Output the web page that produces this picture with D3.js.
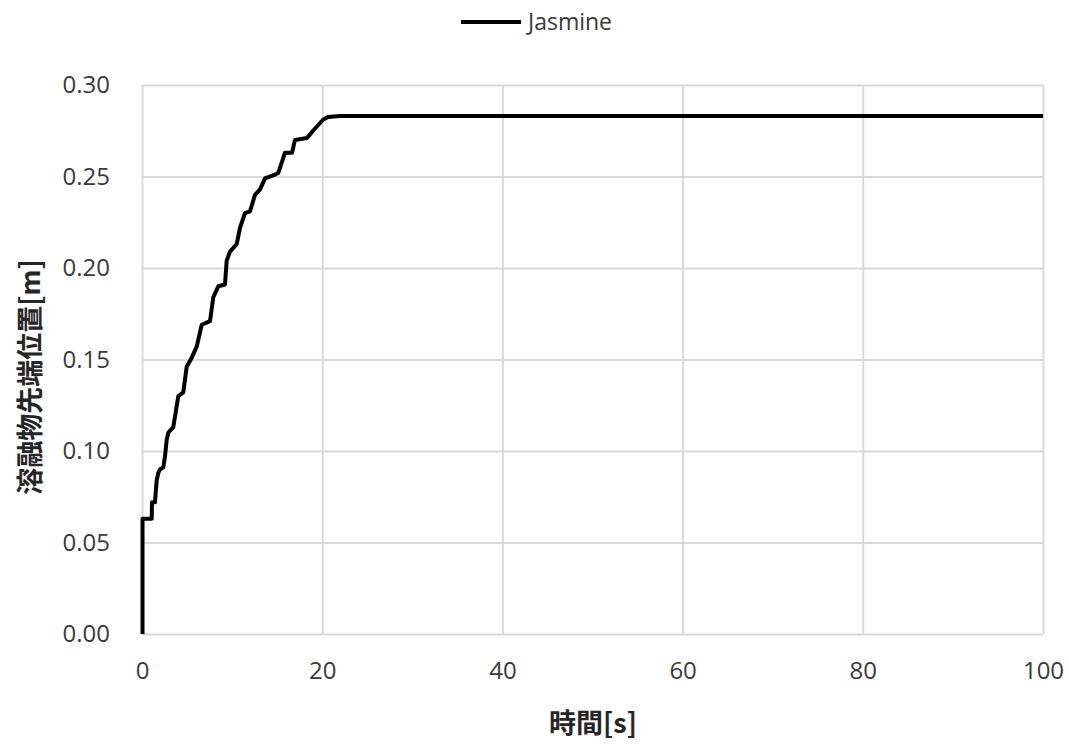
<!DOCTYPE html>
<html>
<head>
<meta charset="utf-8">
<script src="https://cdn.jsdelivr.net/npm/d3@7"></script>
<style>
  html, body { margin: 0; padding: 0; background: #fff; }
  svg { display: block; }
</style>
</head>
<body>
<svg id="chart" width="1069" height="745"></svg>
<script>
// Melt front position over time
const timeValues = [0.06, 0.06, 1.08, 1.11, 1.44, 1.63, 1.81, 2.00, 2.36, 2.55, 2.74, 2.92, 3.47,
  4.03, 4.58, 4.96, 5.52, 6.07, 6.63, 7.55, 7.91, 8.47, 9.21, 9.40, 9.77, 10.51, 10.88, 11.43,
  11.99, 12.54, 13.10, 13.65, 14.76, 15.13, 15.87, 16.65, 16.98, 18.31, 18.98, 20.09, 20.64,
  21.98, 100];
const positionValues = [0.000, 0.063, 0.063, 0.072, 0.072, 0.084, 0.088, 0.090, 0.091, 0.097,
  0.106, 0.110, 0.113, 0.130, 0.132, 0.146, 0.151, 0.157, 0.169, 0.171, 0.184, 0.190, 0.191,
  0.204, 0.209, 0.213, 0.222, 0.230, 0.231, 0.240, 0.243, 0.249, 0.251, 0.252, 0.263, 0.263,
  0.270, 0.271, 0.275, 0.281, 0.2825, 0.283, 0.283];
const xTicks = [0, 20, 40, 60, 80, 100];
const yTicks = [0, 0.05, 0.10, 0.15, 0.20, 0.25, 0.30];
const seriesName = "Jasmine";
const xTitle = "時間[s]";
const yTitle = "溶融物先端位置[m]";

const svg = d3.select("#chart");
const plotLeft = 142, plotRight = 1043, plotTop = 85, plotBottom = 634;

const x = d3.scaleLinear().domain([0, 100]).range([plotLeft, plotRight]);
const y = d3.scaleLinear().domain([0, 0.30]).range([plotBottom, plotTop]);

const font = "'Open Sans', 'Noto Sans', sans-serif";
const cjkFont = "'Noto Sans CJK JP', sans-serif";
const gridColor = "#d9d9d9";
const labelColor = "#3a3a3a";

// gridlines
svg.append("g")
  .attr("transform", `translate(${plotLeft},0)`)
  .call(d3.axisLeft(y).tickValues(yTicks).tickSize(-(plotRight - plotLeft)).tickFormat(""))
  .call(g => g.select(".domain").remove())
  .call(g => g.selectAll("line").attr("stroke", gridColor).attr("stroke-width", 2));

svg.append("g")
  .attr("transform", `translate(0,${plotBottom})`)
  .call(d3.axisBottom(x).tickValues(xTicks).tickSize(-(plotBottom - plotTop)).tickFormat(""))
  .call(g => g.select(".domain").remove())
  .call(g => g.selectAll("line").attr("stroke", gridColor).attr("stroke-width", 2));

// tick labels
svg.append("g")
  .attr("transform", `translate(${plotLeft},0)`)
  .call(d3.axisLeft(y).tickValues(yTicks).tickSize(0).tickPadding(32).tickFormat(d3.format(".2f")))
  .call(g => g.select(".domain").remove())
  .call(g => g.selectAll("text").attr("font-family", font).attr("font-size", 24).attr("fill", labelColor));

svg.append("g")
  .attr("transform", `translate(0,${plotBottom})`)
  .call(d3.axisBottom(x).tickValues(xTicks).tickSize(0).tickPadding(28).tickFormat(d3.format("d")))
  .call(g => g.select(".domain").remove())
  .call(g => g.selectAll("text").attr("font-family", font).attr("font-size", 24).attr("fill", labelColor));

// series line
const data = timeValues.map((t, i) => [t, positionValues[i]]);
svg.append("path")
  .datum(data)
  .attr("fill", "none")
  .attr("stroke", "#000")
  .attr("stroke-width", 4)
  .attr("stroke-linejoin", "round")
  .attr("d", d3.line().x(d => x(d[0])).y(d => y(d[1])));

// axis titles
svg.append("text")
  .attr("x", 593)
  .attr("y", 733)
  .attr("text-anchor", "middle")
  .attr("font-family", cjkFont)
  .attr("font-weight", "bold")
  .attr("font-size", 27)
  .attr("fill", "#262626")
  .text(xTitle);

svg.append("text")
  .attr("transform", "translate(40,377) rotate(-90)")
  .attr("text-anchor", "middle")
  .attr("font-family", cjkFont)
  .attr("font-weight", "bold")
  .attr("font-size", 27)
  .attr("fill", "#262626")
  .text(yTitle);

// legend
svg.append("line")
  .attr("x1", 461).attr("x2", 521)
  .attr("y1", 22).attr("y2", 22)
  .attr("stroke", "#000").attr("stroke-width", 4);
svg.append("text")
  .attr("x", 528).attr("y", 30)
  .attr("font-family", font)
  .attr("font-size", 23)
  .attr("fill", labelColor)
  .text(seriesName);
</script>
</body>
</html>
